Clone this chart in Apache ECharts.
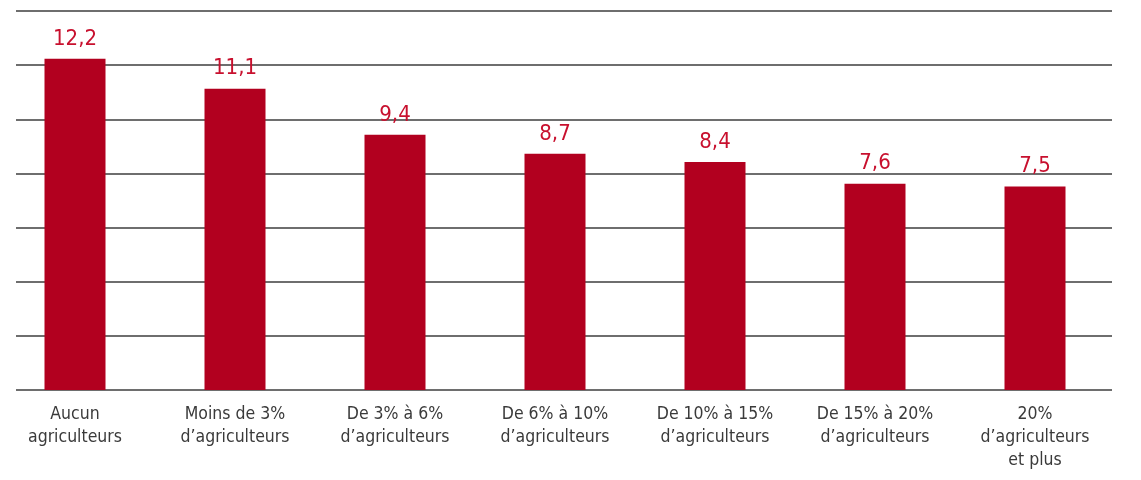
<!DOCTYPE html>
<html lang="fr">

<head>
  <meta charset="UTF-8">
  <title>Part des agriculteurs</title>
  <script src="https://cdn.jsdelivr.net/npm/echarts@6/dist/echarts.min.js"></script>
  <style>
    html, body { margin: 0; padding: 0; background: #fff; }
    #chart { width: 1141px; height: 480px; }
  </style>
</head>

<body>
  <div id="chart"></div>
  <script>
    // data
    const categories = [
      'Aucun\nagriculteurs',
      'Moins de 3%\nd\u2019agriculteurs',
      'De 3% \u00e0 6%\nd\u2019agriculteurs',
      'De 6% \u00e0 10%\nd\u2019agriculteurs',
      'De 10% \u00e0 15%\nd\u2019agriculteurs',
      'De 15% \u00e0 20%\nd\u2019agriculteurs',
      '20%\nd\u2019agriculteurs\net plus'
    ];
    const values = [12.2, 11.1, 9.4, 8.7, 8.4, 7.6, 7.5];
    const yTicks = [0, 2, 4, 6, 8, 10, 12, 14];

    const font = '"DejaVu Sans Condensed", "Liberation Sans Narrow", sans-serif';
    const lineColor = '#6e6e6e';

    let myChart = echarts.init(document.getElementById('chart'));

    let option = {
      animation: false,
      grid: [
        // gridlines only
        { left: 16, right: 29, top: 11, bottom: 90 },
        // bars, centred on the ticks
        { left: 75, right: 106, top: 10, bottom: 90 }
      ],
      xAxis: [
        {
          gridIndex: 0,
          type: 'value',
          show: false
        },
        {
          gridIndex: 1,
          type: 'category',
          data: categories,
          boundaryGap: false,
          axisLine: { show: false },
          axisTick: { show: false },
          axisLabel: {
            interval: 0,
            color: '#3a3a3a',
            fontFamily: font,
            fontSize: 17.5,
            lineHeight: 23,
            margin: 13
          }
        }
      ],
      yAxis: [
        {
          gridIndex: 0,
          type: 'value',
          min: yTicks[0],
          max: yTicks[yTicks.length - 1],
          interval: 2,
          axisLine: { show: false },
          axisTick: { show: false },
          axisLabel: { show: false },
          splitLine: { lineStyle: { color: lineColor, width: 2 } }
        },
        {
          gridIndex: 1,
          type: 'value',
          min: yTicks[0],
          max: yTicks[yTicks.length - 1],
          show: false
        }
      ],
      series: [
        {
          type: 'bar',
          xAxisIndex: 1,
          yAxisIndex: 1,
          data: values,
          barWidth: 61,
          itemStyle: { color: '#b2001f' },
          label: {
            show: true,
            position: 'top',
            distance: 9,
            color: '#c8102e',
            fontFamily: font,
            fontSize: 22,
            formatter: function (p) {
              return String(p.value).replace('.', ',');
            }
          }
        }
      ]
    };

    myChart.setOption(option);
  </script>
</body>

</html>
